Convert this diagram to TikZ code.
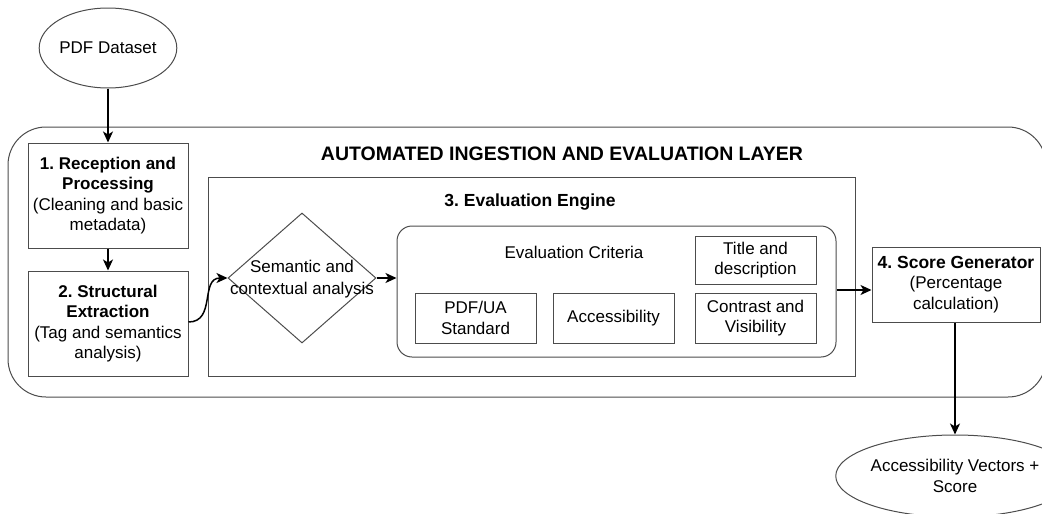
\documentclass[tikz,border=0pt]{standalone}
\usepackage{fontspec}
\setmainfont{Liberation Sans}
\usetikzlibrary{shapes.geometric,arrows.meta}
\begin{document}
\frenchspacing
\begin{tikzpicture}[x=1pt,y=-1pt,
  every node/.style={font=\fontsize{17}{20.5}\selectfont},
  shp/.style={draw=black!70,line width=1pt},
  boxn/.style={shp,rectangle,inner sep=0pt,align=center},
  ell/.style={shp,ellipse,inner sep=0pt,align=center},
  arr/.style={draw=black,line width=1.5pt,-{Stealth[length=11pt,width=10pt,inset=3pt]}},
  lbl/.style={align=center,inner sep=0pt}]
\useasboundingbox (0,0) rectangle (1042,514);
\clip (0,0) rectangle (1042,514);
% outer layer
\draw[shp,rounded corners=38pt] (8,127) rectangle (1046,397);
\node[lbl,font=\fontsize{19.5}{22}\selectfont\bfseries] (title) at (562,154) {AUTOMATED INGESTION AND EVALUATION LAYER};
% input
\node[ell,minimum width=120pt,minimum height=80pt] (ds) at (108,48) {PDF Dataset};
% step boxes
\node[boxn,minimum width=160pt,minimum height=105pt] (b1) at (108,195.5)
  {\textbf{1. Reception and}\\\textbf{Processing}\\(Cleaning and basic\\metadata)};
\node[boxn,minimum width=160pt,minimum height=105pt] (b2) at (108,323.5)
  {\textbf{2. Structural}\\\textbf{Extraction}\\(Tag and semantics\\analysis)};
% engine
\node[boxn,minimum width=647pt,minimum height=199pt] (eng) at (531.5,276.5) {};
\node[lbl,font=\fontsize{17.5}{20.5}\selectfont\bfseries] (engl) at (530,202) {3. Evaluation Engine};
\node[shp,diamond,inner sep=0pt,minimum width=148pt,minimum height=130pt] (dia) at (302,278) {};
\node[lbl,font=\fontsize{17}{22}\selectfont] (diat) at (302,279) {Semantic and\\contextual analysis};
% criteria
\node[shp,rectangle,rounded corners=15pt,minimum width=439pt,minimum height=131pt] (crit) at (616.5,291.5) {};
\node[lbl] (critl) at (574,252) {Evaluation Criteria};
\node[boxn,minimum width=121pt,minimum height=48pt] (td) at (755.5,260) {Title and\\description};
\node[boxn,minimum width=121pt,minimum height=50pt] (pdfua) at (475.5,318) {PDF/UA\\Standard};
\node[boxn,minimum width=121pt,minimum height=50pt] (acc) at (613.5,318) {Accessibility};
\node[boxn,minimum width=121pt,minimum height=50pt] (cv) at (755.5,318) {Contrast and\\Visibility};
% score
\node[boxn,minimum width=168pt,minimum height=75pt] (score) at (956,284.5)
  {\textbf{\fontsize{17.5}{20.5}\selectfont 4. Score Generator}\\(Percentage\\calculation)};
\node[ell,minimum width=228pt,minimum height=82pt] (out) at (955,476) {Accessibility Vectors +\\Score};
% connectors
\draw[arr] (ds.south) -- (b1.north);
\draw[arr] (b1.south) -- (b2.north);
\draw[arr] (b2.east |- 0,322) to[out=0,in=180,looseness=1.2] (dia.west);
\draw[arr] (dia.east) -- (dia.east -| crit.west);
\coordinate (ce) at (crit.east |- 0,290);
\draw[arr] (ce) -- (ce -| score.west);
\draw[arr] (score.south -| out.north) -- (out.north);
\end{tikzpicture}
\end{document}
